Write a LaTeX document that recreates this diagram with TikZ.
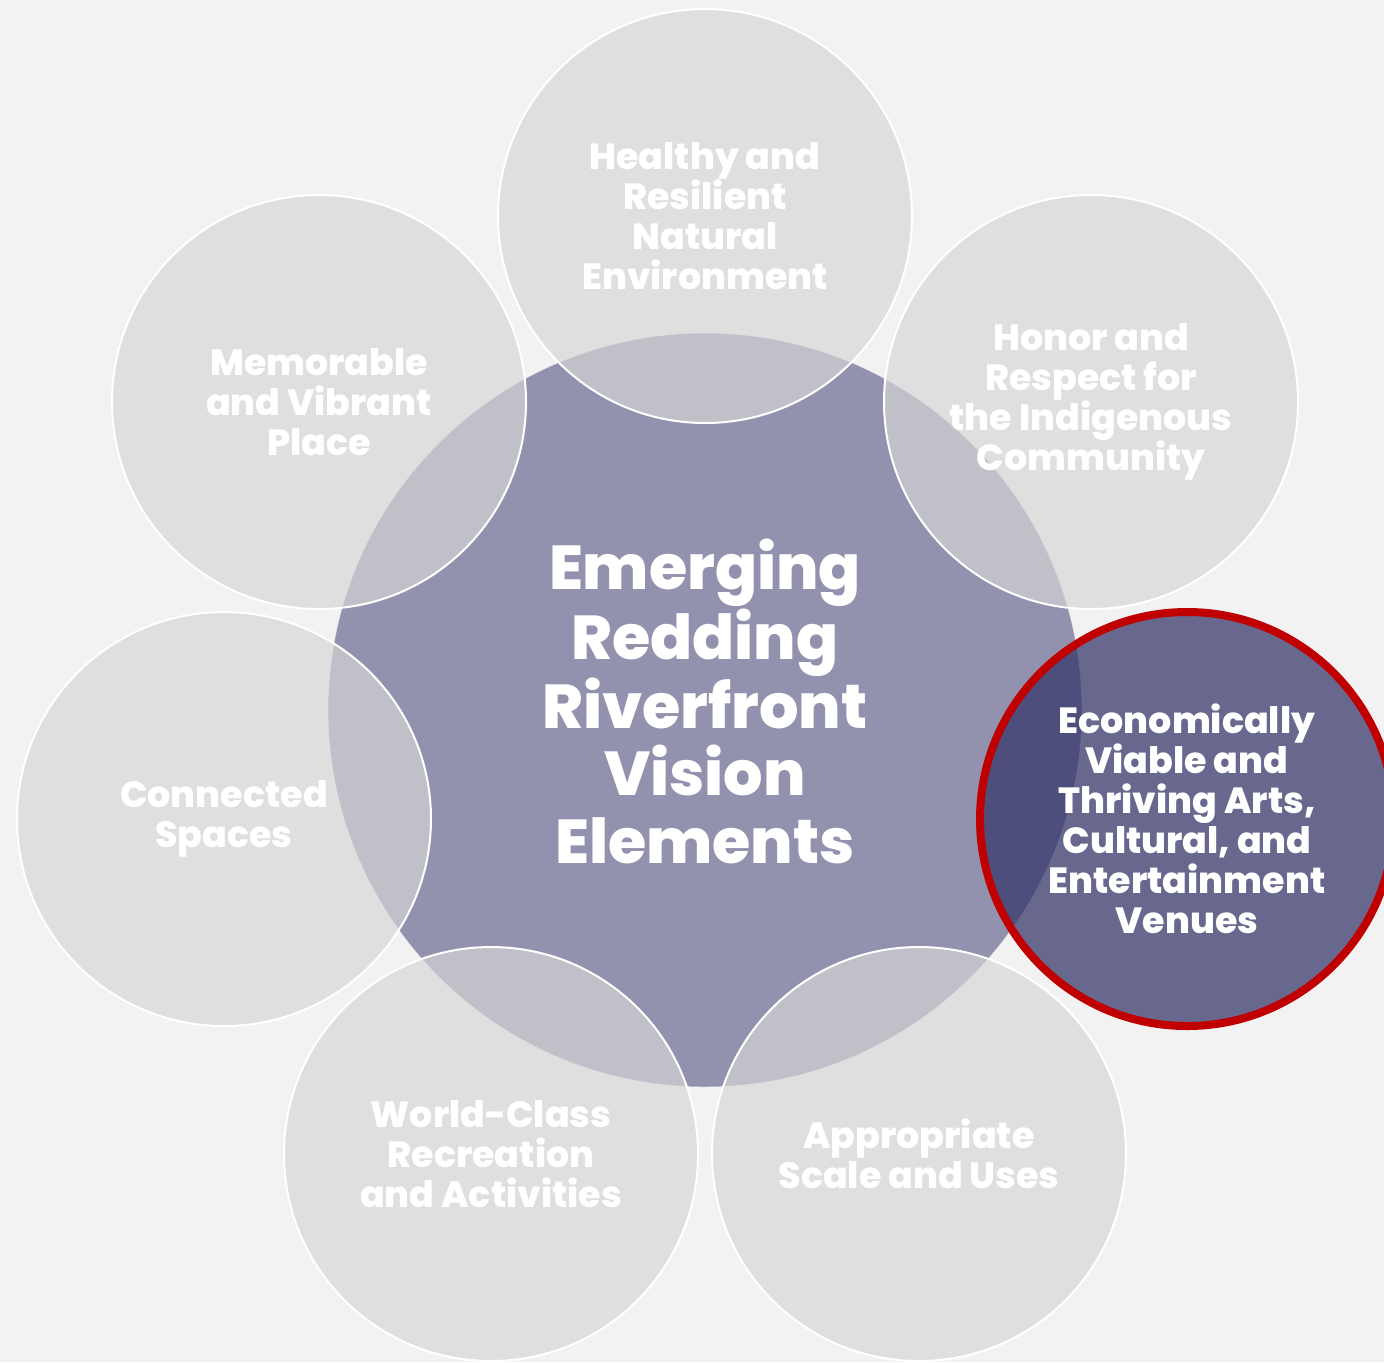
\documentclass[tikz,border=0pt]{standalone}
\usepackage{fontspec}
\setmainfont{Poppins}[BoldFont={Poppins ExtraBold}]
\usepackage{tikz}
\definecolor{pagegray}{HTML}{F2F2F2}
\definecolor{hubblue}{HTML}{9292AE}
\definecolor{petalgray}{HTML}{D7D7D7}
\definecolor{focusblue}{HTML}{34346A}
\definecolor{focusred}{HTML}{C00000}

\tikzset{
  hub/.style={circle, minimum size=377pt, inner sep=0pt, fill=hubblue,
    draw=white, draw opacity=0.5, line width=0.5pt, text=white,
    align=center, text depth=9pt, font=\fontsize{31}{33.6}\selectfont\bfseries},
  petal/.style={circle, minimum size=207pt, inner sep=0pt, fill=petalgray,
    fill opacity=0.68, text opacity=1, draw=white, line width=1pt,
    text=white, align=center, font=\fontsize{18.2}{20}\selectfont\bfseries},
  focus/.style={petal, fill=focusblue, fill opacity=0.72, draw=focusred,
    line width=4pt},
}

\begin{document}
\begin{tikzpicture}[x=0.5pt,y=-0.5pt]
    \clip (0,0) rectangle (1384,1362);
    \fill[pagegray] (0,0) rectangle (1384,1362);
    % centre
    \node[hub] (vision) at (705,710) {Emerging\\Redding\\Riverfront\\Vision\\Elements};
    % the seven elements
    \node[petal] (healthy) at (705,216) {Healthy and\\Resilient\\Natural\\Environment};
    \node[petal] (honor) at (1091,402) {Honor and\\Respect for\\the Indigenous\\Community};
    \node[focus] (economy) at (1187,819) {Economically\\Viable and\\Thriving Arts,\\Cultural, and\\Entertainment\\Venues};
    \node[petal] (scale) at (919,1154) {Appropriate\\Scale and Uses};
    \node[petal] (recreation) at (491,1154) {World-Class\\Recreation\\and Activities};
    \node[petal] (connected) at (224,819) {Connected\\Spaces};
    \node[petal] (memorable) at (319,402) {Memorable\\and Vibrant\\Place};
\end{tikzpicture}
\end{document}
